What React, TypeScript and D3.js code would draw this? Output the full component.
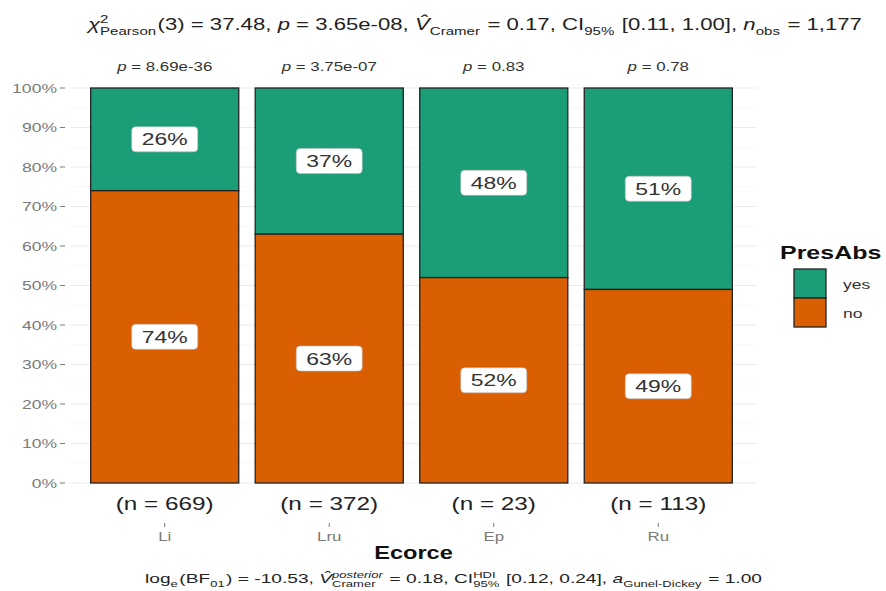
import React from "react";
import * as d3 from "d3";

const categories = ["Li", "Lru", "Ep", "Ru"];
const yesPct = [26, 37, 48, 51];
const noPct = [74, 63, 52, 49];
const counts = ["669", "372", "23", "113"];
const pValues = ["8.69e-36", "3.75e-07", "0.83", "0.78"];
const yTicks = [0, 10, 20, 30, 40, 50, 60, 70, 80, 90, 100];
const legendKeys = ["yes", "no"];

const GREEN = "#1b9e77";
const ORANGE = "#d95f02";
const FONT = "'Liberation Sans', Arial, sans-serif";
const SX = 1.35; // horizontal text stretch

let ctx: CanvasRenderingContext2D | null = null;
function textWidth(t: string, size: number, italic = false, bold = false) {
  if (!ctx) ctx = document.createElement("canvas").getContext("2d");
  if (!ctx) return t.length * size * 0.55;
  ctx.font = `${italic ? "italic " : ""}${bold ? "bold " : ""}${size}px ${FONT}`;
  return ctx.measureText(t).width;
}

type Seg = { t?: string; it?: boolean; sub?: string; sup?: string; subIt?: boolean; supIt?: boolean };

// lays out a math-like line of text segments with subscripts / superscripts
function MathLine({ x, y, segs, size, width, fill }: { x: number; y: number; segs: Seg[]; size: number; width: number; fill: string }) {
  const small = size * 0.68;
  const parts: React.ReactNode[] = [];
  let cx = 0;
  segs.forEach((s, i) => {
    if (s.t !== undefined) {
      parts.push(<tspan key={i + "t"} x={cx} y={0} fontSize={size} fontStyle={s.it ? "italic" : "normal"}>{s.t}</tspan>);
      cx += textWidth(s.t, size, s.it);
    } else {
      let w = 0;
      if (s.sup) {
        parts.push(<tspan key={i + "p"} x={cx} y={-size * 0.42} fontSize={small} fontStyle={s.supIt ? "italic" : "normal"}>{s.sup}</tspan>);
        w = Math.max(w, textWidth(s.sup, small, s.supIt));
      }
      if (s.sub) {
        parts.push(<tspan key={i + "b"} x={cx} y={size * 0.3} fontSize={small} fontStyle={s.subIt ? "italic" : "normal"}>{s.sub}</tspan>);
        w = Math.max(w, textWidth(s.sub, small, s.subIt));
      }
      cx += w + 1;
    }
  });
  const sx = width / cx;
  return (
    <g transform={`translate(${x},${y}) scale(${sx},1)`}>
      <text fill={fill}>{parts}</text>
    </g>
  );
}

function T({ x, y, size, anchor = "start", fill = "#333", bold = false, children }: any) {
  return (
    <g transform={`translate(${x},${y}) scale(${SX},1)`}>
      <text x={0} y={0} fontSize={size} textAnchor={anchor} fill={fill} fontWeight={bold ? "bold" : "normal"}>{children}</text>
    </g>
  );
}

const titleSegs: Seg[] = [
  { t: "χ", it: true },
  { sup: "2", sub: "Pearson" },
  { t: "(3) = 37.48, " },
  { t: "p", it: true },
  { t: " = 3.65e-08, " },
  { t: "V̂", it: true },
  { sub: "Cramer" },
  { t: " = 0.17, CI" },
  { sub: "95%" },
  { t: " [0.11, 1.00], " },
  { t: "n", it: true },
  { sub: "obs" },
  { t: " = 1,177" },
];

const captionSegs: Seg[] = [
  { t: "log" },
  { sub: "e" },
  { t: "(BF" },
  { sub: "01" },
  { t: ") = -10.53, " },
  { t: "V̂", it: true },
  { sup: "posterior", supIt: true, sub: "Cramer" },
  { t: " = 0.18, CI" },
  { sup: "HDI", sub: "95%" },
  { t: " [0.12, 0.24], " },
  { t: "a", it: true },
  { sub: "Gunel-Dickey" },
  { t: " = 1.00" },
];

export default function App() {
  const W = 886, H = 591;
  const panel = { left: 66, right: 757, top: 88, bottom: 483 };

  const x = d3.scaleBand<string>()
    .domain(categories)
    .range([panel.left, panel.right])
    .paddingInner(0.1)
    .paddingOuter(0.15);
  const y = d3.scaleLinear().domain([0, 100]).range([panel.bottom, panel.top]);

  const label = (cx: number, cy: number, txt: string, key: string) => (
    <g key={key}>
      <rect x={cx - 33} y={cy - 12.5} width={66} height={25} rx={4} fill="white" stroke="#bbbbbb" strokeWidth={0.6} />
      <T x={cx} y={cy + 6} size={17} anchor="middle" fill="#333">{txt}</T>
    </g>
  );

  return (
    <svg width={W} height={H} style={{ position: "absolute", left: 0, top: 0, background: "white" }} fontFamily={FONT}>
      {/* title */}
      <MathLine x={88} y={30} segs={titleSegs} size={16.5} width={774} fill="#222" />

      {/* gridlines */}
      {yTicks.slice(0, -1).map((t) => (
        <line key={"m" + t} x1={panel.left + 4} x2={panel.right} y1={y(t + 5)} y2={y(t + 5)} stroke="#f5f5f5" strokeWidth={0.6} />
      ))}
      {yTicks.map((t) => (
        <line key={"g" + t} x1={panel.left + 4} x2={panel.right} y1={y(t)} y2={y(t)} stroke="#ebebeb" strokeWidth={1} />
      ))}

      {/* y axis */}
      {yTicks.map((t) => (
        <g key={"y" + t}>
          <T x={57} y={y(t) + 4.5} size={13} anchor="end" fill="#7a7a7a">{t}%</T>
          <line x1={60} x2={65} y1={y(t)} y2={y(t)} stroke="#7a7a7a" strokeWidth={1} />
        </g>
      ))}

      {/* stacked bars */}
      {categories.map((c, i) => {
        const x0 = x(c)!;
        const bw = x.bandwidth();
        return (
          <g key={c}>
            <rect x={x0} y={y(100)} width={bw} height={y(noPct[i]) - y(100)} fill={GREEN} stroke="#222" strokeWidth={1.3} />
            <rect x={x0} y={y(noPct[i])} width={bw} height={y(0) - y(noPct[i])} fill={ORANGE} stroke="#222" strokeWidth={1.3} />
          </g>
        );
      })}
      {categories.map((c, i) => {
        const cx = x(c)! + x.bandwidth() / 2;
        return (
          <g key={"l" + c}>
            {label(cx, y(100 - yesPct[i] / 2), yesPct[i] + "%", "yl" + c)}
            {label(cx, y(noPct[i] / 2), noPct[i] + "%", "nl" + c)}
            <T x={cx} y={71} size={12.5} anchor="middle" fill="#333">
              <tspan fontStyle="italic">p</tspan> = {pValues[i]}
            </T>
            <T x={cx} y={510} size={18} anchor="middle" fill="#222">(n = {counts[i]})</T>
            <line x1={cx} x2={cx} y1={523} y2={527} stroke="#7a7a7a" strokeWidth={1} />
            <T x={cx} y={541} size={12.5} anchor="middle" fill="#7a7a7a">{c}</T>
          </g>
        );
      })}

      {/* x title */}
      <T x={(panel.left + panel.right) / 2 + 2} y={559} size={17.5} anchor="middle" bold fill="#111">Ecorce</T>

      {/* caption */}
      <MathLine x={145} y={583} segs={captionSegs} size={13} width={617} fill="#222" />

      {/* legend */}
      <T x={780} y={259} size={18.5} bold fill="#111">PresAbs</T>
      {legendKeys.map((k, i) => (
        <g key={k}>
          <rect x={794} y={269 + i * 29} width={32} height={29} fill={k === "yes" ? GREEN : ORANGE} stroke="#222" strokeWidth={1.3} />
          <T x={843} y={289 + i * 29} size={13} fill="#333">{k}</T>
        </g>
      ))}
    </svg>
  );
}
